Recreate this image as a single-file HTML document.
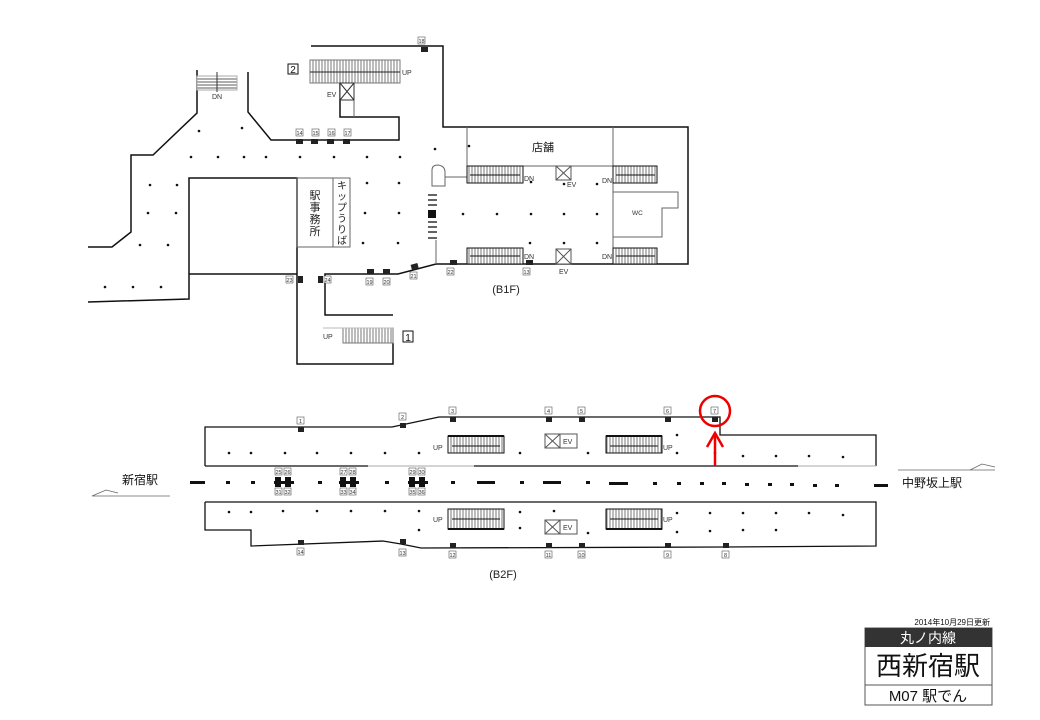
<!DOCTYPE html>
<html><head><meta charset="utf-8"><style>
html,body{margin:0;padding:0;background:#fff;width:1040px;height:720px;overflow:hidden}
svg{display:block}
text{font-family:"Liberation Sans","Noto Sans CJK JP",sans-serif}
</style></head><body>
<svg width="1040" height="720" viewBox="0 0 1040 720" xmlns="http://www.w3.org/2000/svg">
<defs>
<pattern id="esc" width="3" height="10" patternUnits="userSpaceOnUse"><rect width="3" height="10" fill="#fff"/><line x1="1" y1="0" x2="1" y2="10" stroke="#555" stroke-width="0.8"/></pattern>
<pattern id="stH" width="10" height="3" patternUnits="userSpaceOnUse"><rect width="10" height="3" fill="#fff"/><line x1="0" y1="1" x2="10" y2="1" stroke="#333" stroke-width="0.8"/></pattern>
</defs>
<g fill="none" stroke="#111" stroke-width="1.5">
<polyline points="88,247 112,247 131,232 131,155 153,155 197,113 197,70"/>
<polyline points="248,72 248,112 271,140 399,140 399,117 340,117 340,83"/>
<polyline points="311,46 443,46 443,127 688,127 688,264 436,264 398,274 325,274 325,315 393,315"/>
<polyline points="88,302 189,299 189,178 297,178 297,364 393,364 393,343"/>
<line x1="189" y1="274" x2="297" y2="274"/>
</g>
<g fill="none" stroke="#666" stroke-width="1">
<rect x="297" y="178" width="53" height="69"/>
<line x1="333" y1="178" x2="333" y2="247"/>
<polyline points="467,127 467,166 613,166 613,127"/>
<polyline points="613,192 678,192 678,208 662,208 662,237 613,237"/>
<line x1="613" y1="183" x2="613" y2="248"/>
<path d="M432,186 V170 Q432,165 438,165 Q445,166 445,172 V186 Z"/>
<line x1="445" y1="177" x2="467" y2="177"/>
<line x1="436" y1="240" x2="436" y2="264"/>
<line x1="354" y1="83" x2="354" y2="117"/>
</g>
<rect x="197" y="76" width="40" height="14" fill="url(#stH)" stroke="#aaa"/>
<line x1="217" y1="72" x2="217" y2="92" stroke="#333"/>
<rect x="310" y="60" width="90" height="23" fill="url(#esc)" stroke="#777"/>
<line x1="310" y1="72" x2="400" y2="72" stroke="#222"/>
<rect x="340" y="83" width="14" height="17" fill="#fff" stroke="#333"/>
<path d="M340,83 L354,100 M354,83 L340,100" stroke="#333"/>
<rect x="343" y="328" width="50" height="15" fill="url(#esc)" stroke="#777"/>
<line x1="323" y1="328" x2="393" y2="328" stroke="#bbb"/>
<g stroke="#111">
<rect x="467" y="166" width="56" height="17" fill="url(#esc)"/>
<rect x="613" y="166" width="44" height="17" fill="url(#esc)"/>
<rect x="467" y="248" width="56" height="16" fill="url(#esc)"/>
<rect x="613" y="248" width="44" height="16" fill="url(#esc)"/>
<line x1="470" y1="175" x2="520" y2="175"/><line x1="616" y1="175" x2="655" y2="175"/>
<line x1="470" y1="256" x2="520" y2="256"/><line x1="616" y1="256" x2="655" y2="256"/>
</g>
<g stroke="#555" fill="#fff">
<rect x="556" y="166" width="15" height="14"/><path d="M556,166 L571,180 M571,166 L556,180"/>
<rect x="556" y="249" width="15" height="15"/><path d="M556,249 L571,264 M571,249 L556,264"/>
</g>
<g stroke="#111" stroke-width="1.3">
<line x1="428" y1="195" x2="437" y2="195"/><line x1="428" y1="200" x2="437" y2="200"/><line x1="428" y1="205" x2="437" y2="205"/>
<line x1="428" y1="222" x2="437" y2="222"/><line x1="428" y1="227" x2="437" y2="227"/><line x1="428" y1="232" x2="437" y2="232"/><line x1="428" y1="238" x2="437" y2="238"/>
</g>
<rect x="428" y="210" width="8" height="8" fill="#111"/>
<g fill="#111">
<circle cx="199" cy="131" r="1.3"/><circle cx="242" cy="128" r="1.3"/>
<circle cx="191" cy="157" r="1.3"/><circle cx="218" cy="157" r="1.3"/><circle cx="244" cy="157" r="1.3"/><circle cx="266" cy="157" r="1.3"/><circle cx="300" cy="157" r="1.3"/><circle cx="334" cy="157" r="1.3"/><circle cx="367" cy="157" r="1.3"/><circle cx="400" cy="157" r="1.3"/>
<circle cx="435" cy="149" r="1.3"/><circle cx="469" cy="146" r="1.3"/>
<circle cx="150" cy="185" r="1.3"/><circle cx="177" cy="185" r="1.3"/><circle cx="148" cy="213" r="1.3"/><circle cx="176" cy="213" r="1.3"/><circle cx="140" cy="245" r="1.3"/><circle cx="168" cy="245" r="1.3"/>
<circle cx="105" cy="287" r="1.3"/><circle cx="133" cy="287" r="1.3"/><circle cx="161" cy="287" r="1.3"/>
<circle cx="367" cy="183" r="1.3"/><circle cx="399" cy="183" r="1.3"/><circle cx="365" cy="213" r="1.3"/><circle cx="399" cy="213" r="1.3"/><circle cx="363" cy="243" r="1.3"/><circle cx="398" cy="243" r="1.3"/>
<circle cx="463" cy="214" r="1.3"/><circle cx="497" cy="214" r="1.3"/><circle cx="531" cy="214" r="1.3"/><circle cx="564" cy="214" r="1.3"/><circle cx="597" cy="214" r="1.3"/>
<circle cx="531" cy="182" r="1.3"/><circle cx="564" cy="184" r="1.3"/><circle cx="597" cy="184" r="1.3"/>
<circle cx="530" cy="243" r="1.3"/><circle cx="564" cy="243" r="1.3"/><circle cx="597" cy="243" r="1.3"/>
</g>
<g fill="#222">
<rect x="421" y="47" width="7" height="5"/>
<rect x="296" y="139" width="7" height="5"/><rect x="311" y="139" width="7" height="5"/><rect x="327" y="139" width="7" height="5"/><rect x="343" y="139" width="7" height="5"/>
<rect x="298" y="276" width="5" height="7"/><rect x="318" y="276" width="5" height="7"/>
<rect x="367" y="269" width="7" height="5"/><rect x="383" y="269" width="7" height="5"/>
<rect x="411" y="264" width="7" height="5" transform="rotate(-15 414 266)"/>
<rect x="450" y="260" width="7" height="5"/><rect x="526" y="260" width="7" height="5"/>
</g>
<g font-size="5.5" fill="#333" text-anchor="middle" stroke="none">
<g fill="#fff" stroke="#555" stroke-width="0.6">
<rect x="418" y="37" width="7" height="7"/>
<rect x="296" y="129" width="7" height="7"/><rect x="312" y="129" width="7" height="7"/><rect x="328" y="129" width="7" height="7"/><rect x="344" y="129" width="7" height="7"/>
<rect x="286" y="276" width="7" height="7"/><rect x="324" y="276" width="7" height="7"/>
<rect x="366" y="278" width="7" height="7"/><rect x="383" y="278" width="7" height="7"/><rect x="410" y="272" width="7" height="7"/>
<rect x="447" y="268" width="7" height="7"/><rect x="523" y="268" width="7" height="7"/>
</g>
<text x="421.5" y="43">18</text><text x="299.5" y="135">14</text><text x="315.5" y="135">15</text><text x="331.5" y="135">16</text><text x="347.5" y="135">17</text>
<text x="289.5" y="282">23</text><text x="327.5" y="282">24</text><text x="369.5" y="284">19</text><text x="386.5" y="284">20</text><text x="413.5" y="278">21</text><text x="450.5" y="274">22</text><text x="526.5" y="274">13</text>
</g>
<g font-size="7" fill="#333">
<text x="212" y="99">DN</text><text x="402" y="75">UP</text><text x="327" y="97">EV</text><text x="323" y="339">UP</text>
<text x="524" y="181">DN</text><text x="602" y="183">DN</text><text x="524" y="259">DN</text><text x="602" y="259">DN</text>
<text x="567" y="187">EV</text><text x="559" y="274">EV</text><text x="632" y="215" font-size="6.5">WC</text>
</g>
<g fill="#fff" stroke="#111" stroke-width="1"><rect x="288" y="64" width="10" height="10"/><rect x="403" y="331" width="10" height="11"/></g>
<text x="293" y="73" font-size="10" text-anchor="middle" fill="#111">2</text>
<text x="408" y="341" font-size="10" text-anchor="middle" fill="#111">1</text>
<text x="543" y="151" font-size="11" text-anchor="middle" fill="#111">店舗</text>
<text font-size="11" fill="#222" text-anchor="middle"><tspan x="315" y="199">駅</tspan><tspan x="315" y="211">事</tspan><tspan x="315" y="223">務</tspan><tspan x="315" y="235">所</tspan></text>
<text font-size="10" fill="#222" text-anchor="middle"><tspan x="342" y="189">キ</tspan><tspan x="342" y="200">ッ</tspan><tspan x="342" y="211">プ</tspan><tspan x="342" y="222">う</tspan><tspan x="342" y="233">り</tspan><tspan x="342" y="244">ば</tspan></text>
<text x="506" y="293" font-size="11" text-anchor="middle" fill="#222">(B1F)</text>

<g fill="none" stroke="#111" stroke-width="1.3">
<polyline points="205,466 205,427 392,427 439,417 720,417 720,435 876,435 876,466"/>
<line x1="205" y1="466" x2="368" y2="466"/><line x1="474" y1="466" x2="798" y2="466"/>
<polyline points="205,502 876,502 876,546 726,547 421,548 401,544 383,541 251,546 251,530 205,530 205,502"/>
</g>
<g stroke="#bbb" stroke-width="1.3"><line x1="368" y1="466" x2="474" y2="466"/><line x1="798" y1="466" x2="876" y2="466"/></g>
<g stroke="#111">
<rect x="448" y="436" width="56" height="17" fill="url(#esc)"/><rect x="606" y="436" width="56" height="17" fill="url(#esc)"/>
<rect x="448" y="509" width="56" height="20" fill="url(#esc)"/><rect x="606" y="509" width="56" height="20" fill="url(#esc)"/>
<line x1="448" y1="436" x2="504" y2="436" stroke-width="2"/><line x1="606" y1="436" x2="662" y2="436" stroke-width="2"/>
<line x1="448" y1="529" x2="504" y2="529" stroke-width="2"/><line x1="606" y1="529" x2="662" y2="529" stroke-width="2"/>
<line x1="452" y1="446" x2="500" y2="446"/><line x1="610" y1="446" x2="658" y2="446"/>
<line x1="452" y1="519" x2="500" y2="519"/><line x1="610" y1="519" x2="658" y2="519"/>
</g>
<g stroke="#555" fill="#fff">
<rect x="545" y="434" width="15" height="14"/><path d="M545,434 L560,448 M560,434 L545,448"/><rect x="560" y="434" width="17" height="14"/>
<rect x="545" y="520" width="15" height="14"/><path d="M545,520 L560,534 M560,520 L545,534"/><rect x="560" y="520" width="17" height="14"/>
</g>
<g font-size="7" fill="#333"><text x="563" y="444">EV</text><text x="563" y="530">EV</text>
<text x="433" y="450">UP</text><text x="663" y="450">UP</text><text x="433" y="522">UP</text><text x="663" y="522">UP</text></g>
<g fill="#111">
<circle cx="229" cy="453" r="1.3"/><circle cx="251" cy="453" r="1.3"/><circle cx="285" cy="453" r="1.3"/><circle cx="317" cy="453" r="1.3"/><circle cx="351" cy="453" r="1.3"/><circle cx="385" cy="453" r="1.3"/><circle cx="419" cy="453" r="1.3"/>
<circle cx="520" cy="453" r="1.3"/><circle cx="588" cy="453" r="1.3"/><circle cx="677" cy="435" r="1.3"/><circle cx="677" cy="453" r="1.3"/><circle cx="715" cy="435" r="1.3"/><circle cx="715" cy="453" r="1.3"/>
<circle cx="743" cy="456" r="1.3"/><circle cx="776" cy="456" r="1.3"/><circle cx="809" cy="456" r="1.3"/><circle cx="843" cy="457" r="1.3"/>
<circle cx="229" cy="512" r="1.3"/><circle cx="251" cy="512" r="1.3"/><circle cx="283" cy="511" r="1.3"/><circle cx="317" cy="511" r="1.3"/><circle cx="351" cy="511" r="1.3"/><circle cx="385" cy="511" r="1.3"/><circle cx="419" cy="511" r="1.3"/>
<circle cx="520" cy="512" r="1.3"/><circle cx="554" cy="511" r="1.3"/><circle cx="677" cy="513" r="1.3"/><circle cx="710" cy="513" r="1.3"/><circle cx="743" cy="513" r="1.3"/><circle cx="776" cy="513" r="1.3"/><circle cx="809" cy="513" r="1.3"/><circle cx="843" cy="515" r="1.3"/>
<circle cx="419" cy="530" r="1.3"/><circle cx="520" cy="528" r="1.3"/><circle cx="588" cy="533" r="1.3"/><circle cx="677" cy="532" r="1.3"/><circle cx="710" cy="531" r="1.3"/><circle cx="743" cy="530" r="1.3"/><circle cx="776" cy="530" r="1.3"/>
</g>
<g fill="#111">
<rect x="190" y="481" width="15" height="3"/><rect x="226" y="481" width="4" height="3"/><rect x="251" y="481" width="4" height="3"/>
<rect x="274" y="481" width="20" height="3"/><rect x="275" y="477" width="6" height="10"/><rect x="285" y="477" width="6" height="10"/>
<rect x="318" y="481" width="4" height="3"/>
<rect x="339" y="481" width="20" height="3"/><rect x="340" y="477" width="6" height="10"/><rect x="350" y="477" width="6" height="10"/>
<rect x="385" y="481" width="4" height="3"/>
<rect x="408" y="481" width="20" height="3"/><rect x="409" y="477" width="6" height="10"/><rect x="419" y="477" width="6" height="10"/>
<rect x="451" y="481" width="4" height="3"/><rect x="477" y="481" width="18" height="3"/><rect x="520" y="481" width="4" height="3"/><rect x="543" y="481" width="18" height="3"/><rect x="586" y="481" width="4" height="3"/><rect x="609" y="482" width="19" height="3"/>
<rect x="653" y="482" width="4" height="3"/><rect x="677" y="482" width="4" height="3"/><rect x="700" y="482" width="4" height="3"/><rect x="722" y="482" width="4" height="3"/><rect x="745" y="483" width="4" height="3"/><rect x="768" y="483" width="4" height="3"/><rect x="790" y="483" width="4" height="3"/><rect x="813" y="484" width="4" height="3"/><rect x="835" y="484" width="4" height="3"/><rect x="874" y="484" width="14" height="3"/>
</g>
<g font-size="5.5" fill="#333" text-anchor="middle">
<g fill="#fff" stroke="#555" stroke-width="0.6">
<rect x="275" y="468" width="7" height="7"/><rect x="284" y="468" width="7" height="7"/><rect x="275" y="488" width="7" height="7"/><rect x="284" y="488" width="7" height="7"/>
<rect x="340" y="468" width="7" height="7"/><rect x="349" y="468" width="7" height="7"/><rect x="340" y="488" width="7" height="7"/><rect x="349" y="488" width="7" height="7"/>
<rect x="409" y="468" width="7" height="7"/><rect x="418" y="468" width="7" height="7"/><rect x="409" y="488" width="7" height="7"/><rect x="418" y="488" width="7" height="7"/>
<rect x="297" y="417" width="7" height="7"/><rect x="399" y="413" width="7" height="7"/><rect x="449" y="407" width="7" height="7"/><rect x="545" y="407" width="7" height="7"/><rect x="578" y="407" width="7" height="7"/><rect x="664" y="407" width="7" height="7"/><rect x="711" y="407" width="7" height="7"/>
<rect x="297" y="548" width="7" height="7"/><rect x="399" y="549" width="7" height="7"/><rect x="449" y="551" width="7" height="7"/><rect x="545" y="551" width="7" height="7"/><rect x="578" y="551" width="7" height="7"/><rect x="664" y="551" width="7" height="7"/><rect x="722" y="551" width="7" height="7"/>
</g>
<text x="278.5" y="474">25</text><text x="287.5" y="474">26</text><text x="278.5" y="494">31</text><text x="287.5" y="494">32</text>
<text x="343.5" y="474">27</text><text x="352.5" y="474">28</text><text x="343.5" y="494">33</text><text x="352.5" y="494">34</text>
<text x="412.5" y="474">29</text><text x="421.5" y="474">30</text><text x="412.5" y="494">35</text><text x="421.5" y="494">36</text>
<text x="300.5" y="423">1</text><text x="402.5" y="419">2</text><text x="452.5" y="413">3</text><text x="548.5" y="413">4</text><text x="581.5" y="413">5</text><text x="667.5" y="413">6</text><text x="714.5" y="413">7</text>
<text x="300.5" y="554">14</text><text x="402.5" y="555">13</text><text x="452.5" y="557">12</text><text x="548.5" y="557">11</text><text x="581.5" y="557">10</text><text x="667.5" y="557">9</text><text x="725.5" y="557">8</text>
</g>
<g fill="#222">
<rect x="298" y="427" width="6" height="5"/><rect x="400" y="423" width="6" height="5"/><rect x="450" y="417" width="6" height="5"/><rect x="546" y="417" width="6" height="5"/><rect x="579" y="417" width="6" height="5"/><rect x="665" y="417" width="6" height="5"/><rect x="712" y="417" width="6" height="5"/>
<rect x="298" y="540" width="6" height="5"/><rect x="400" y="539" width="6" height="5"/><rect x="450" y="543" width="6" height="5"/><rect x="546" y="543" width="6" height="5"/><rect x="579" y="543" width="6" height="5"/><rect x="665" y="543" width="6" height="5"/><rect x="723" y="543" width="6" height="5"/>
</g>
<circle cx="715" cy="411" r="15" fill="none" stroke="#e00" stroke-width="2.5"/>
<line x1="715" y1="466" x2="715" y2="434" stroke="#e00" stroke-width="2.5"/>
<polyline points="707,447 715,433 723,447" fill="none" stroke="#e00" stroke-width="2.5"/>
<g stroke="#666" fill="none" stroke-width="0.8">
<path d="M92,496 H170 M92,496 L106,490 L118,493"/>
<path d="M898,470 H995 M970,470 L982,464 L995,467"/>
</g>
<text x="122" y="484" font-size="12" fill="#111">新宿駅</text>
<text x="902" y="487" font-size="12" fill="#111">中野坂上駅</text>
<text x="503" y="578" font-size="11" text-anchor="middle" fill="#222">(B2F)</text>

<text x="990" y="625" font-size="8" text-anchor="end" fill="#111">2014年10月29日更新</text>
<rect x="865" y="628" width="127" height="77" fill="#fff" stroke="#555"/>
<rect x="865" y="628" width="127" height="19" fill="#333"/>
<text x="928" y="643" font-size="14" text-anchor="middle" fill="#fff">丸ノ内線</text>
<text x="928" y="675" font-size="26" text-anchor="middle" fill="#111">西新宿駅</text>
<line x1="865" y1="685" x2="992" y2="685" stroke="#555"/>
<text x="928" y="701" font-size="15" text-anchor="middle" fill="#111">M07 駅でん</text>
</svg>
</body></html>
